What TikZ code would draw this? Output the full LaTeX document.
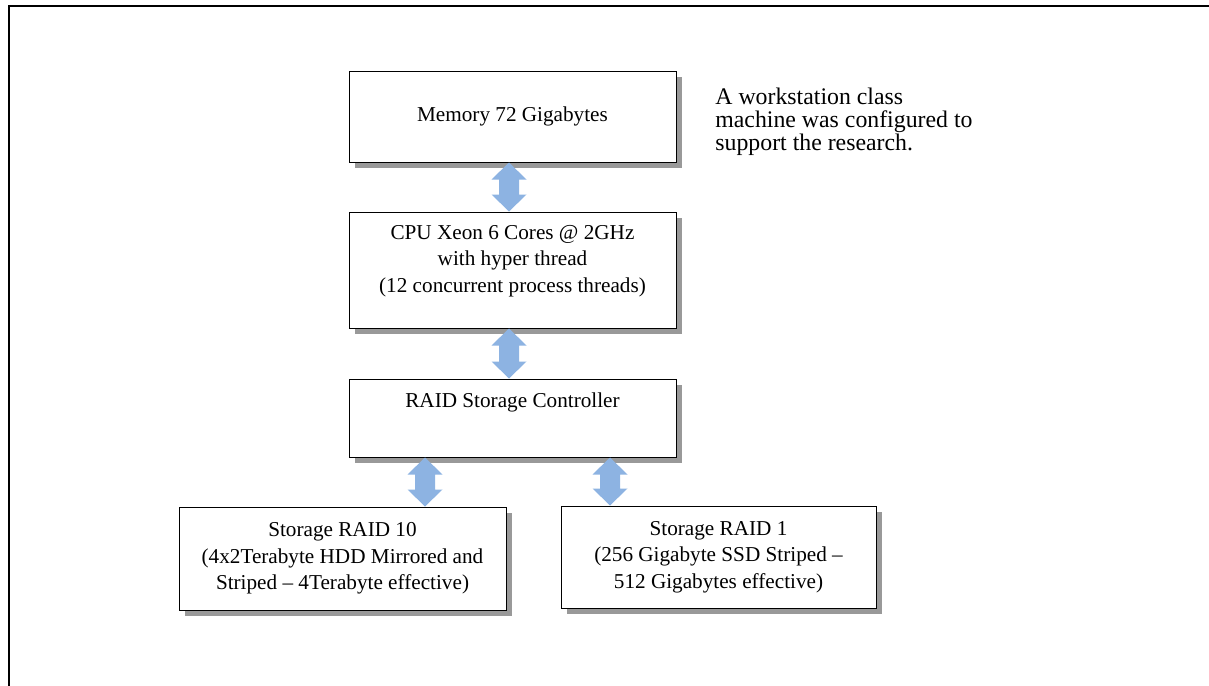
\documentclass[tikz,border=0pt]{standalone}
\usepackage{fontspec}
\setmainfont{Liberation Serif}
\usetikzlibrary{calc,shadows}
\definecolor{arrowblue}{RGB}{141,179,226}
\definecolor{shadowgray}{RGB}{153,153,153}
\newcommand\bxfont{\fontsize{10.6pt}{13.2pt}\selectfont}
\newcommand\sdfont{\fontsize{11.9pt}{11.5pt}\selectfont}
\begin{document}
\begin{tikzpicture}[x=0.5pt,y=-0.5pt,
  box/.style={draw=black, line width=0.5pt, fill=white, rectangle, inner sep=0pt,
    align=center, font=\bxfont,
    drop shadow={shadow xshift=3pt, shadow yshift=-3pt, fill=shadowgray, opacity=1}},
  txt/.style={inner sep=0pt, align=center, font=\bxfont},
  side/.style={inner sep=0pt, align=left, font=\sdfont, anchor=north west},
  frame/.style={draw=black, line width=1pt},
  dblarrow/.style={to path={let \p1=(\tikztostart), \p2=(\tikztotarget) in
    (\x1,\y1) -- (\x1+8.75pt,\y1-8.5pt) -- (\x1+5pt,\y1-8.5pt) -- (\x1+5pt,\y2+8.5pt)
    -- (\x1+8.75pt,\y2+8.5pt) -- (\x1,\y2) -- (\x1-8.75pt,\y2+8.5pt) -- (\x1-5pt,\y2+8.5pt)
    -- (\x1-5pt,\y1-8.5pt) -- (\x1-8.75pt,\y1-8.5pt) -- cycle}},
  arrowfill/.style={fill=arrowblue, draw=none}
]
\useasboundingbox (0,0) rectangle (1209,685);
\fill[white] (0,0) rectangle (1209,685);
\draw[frame] (8.5,690) -- (8.5,5.5) -- (1215,5.5);

\node[box, minimum width=163.5pt, minimum height=45.5pt] (mem) at (512.5,116.5) {Memory 72 Gigabytes};
\node[box, minimum width=163.5pt, minimum height=58pt] (cpu) at (512.5,270) {};
\node[txt] (cputext) at (512.5,261) {CPU Xeon 6 Cores @ 2GHz\\with hyper thread\\(12 concurrent process threads)};
\node[box, minimum width=163.5pt, minimum height=39pt] (ctl) at (512.5,418) {};
\node[txt] (ctltext) at (512.5,402) {RAID Storage Controller};
\node[box, minimum width=163.5pt, minimum height=51.5pt] (r10) at (342.5,558.5) {Storage RAID 10\\(4x2Terabyte HDD Mirrored and\\Striped – 4Terabyte effective)};
\node[box, minimum width=157.5pt, minimum height=51pt] (r1) at (718.5,557) {Storage RAID 1\\(256 Gigabyte SSD Striped –\\512 Gigabytes effective)};

\node[side] (note) at (715,88) {A workstation class\\machine was configured to\\support the research.};

\coordinate (ax) at (509,0);
\coordinate (bx) at (425,0);
\coordinate (cx) at (610,0);
\path[arrowfill] (mem.south -| ax) to[dblarrow] (cpu.north -| ax);
\path[arrowfill] (cpu.south -| ax) to[dblarrow] (ctl.north -| ax);
\path[arrowfill] (ctl.south -| bx) to[dblarrow] (r10.north -| bx);
\path[arrowfill] (ctl.south -| cx) to[dblarrow] (r1.north -| cx);
\end{tikzpicture}
\end{document}
